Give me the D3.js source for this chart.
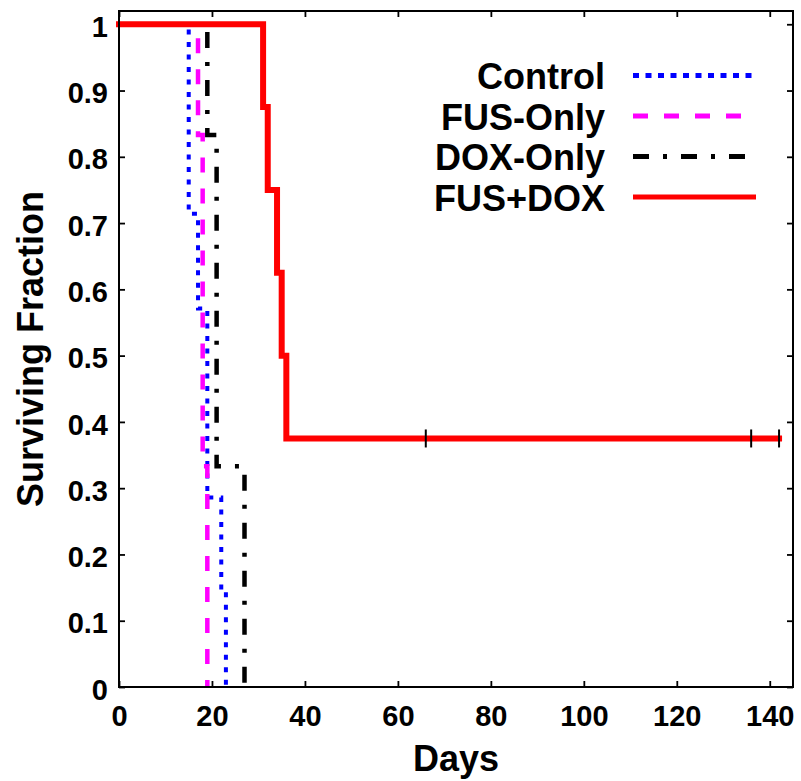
<!DOCTYPE html>
<html lang="en">
<head>
  <meta charset="UTF-8" />
  <title>Surviving Fraction</title>
  <script src="https://d3js.org/d3.v7.min.js"></script>
  <style>
    body {
      margin: 0;
      padding: 0;
      background: white;
      font-family: "Liberation Sans", Arial, sans-serif;
    }
    svg { display: block; }
    .tick text { font-weight: bold; font-size: 29px; }
  </style>
</head>
<body>
  <svg id="chart" width="801" height="781"></svg>

  <script>
    // Kaplan-Meier steps: [day, surviving fraction after that day]
    const controlSteps = [[0, 1], [15, 0.714], [17, 0.571], [19, 0.286], [22, 0.143], [23, 0]];
    const fusOnlySteps = [[0, 1], [17, 0.833], [18, 0.333], [19, 0]];
    const doxOnlySteps = [[0, 1], [19, 0.833], [21, 0.333], [27, 0]];
    const fusDoxSteps = [[0, 1], [31, 0.875], [32, 0.75], [34, 0.625], [35, 0.5], [36, 0.375], [142, 0.375]];

    // censored observations on FUS+DOX
    const fusDoxCensored = [66, 136, 142];
    const fusDoxCensoredLevel = 0.375;

    const seriesNames = ["Control", "FUS-Only", "DOX-Only", "FUS+DOX"];
    const seriesData = [controlSteps, fusOnlySteps, doxOnlySteps, fusDoxSteps];

    const xTicks = [0, 20, 40, 60, 80, 100, 120, 140];
    const yTicks = [0, 0.1, 0.2, 0.3, 0.4, 0.5, 0.6, 0.7, 0.8, 0.9, 1];
    const yTickLabels = ["0", "0.1", "0.2", "0.3", "0.4", "0.5", "0.6", "0.7", "0.8", "0.9", "1"];

    const xLabel = "Days";
    const yLabel = "Surviving Fraction";

    // look of each series
    const styles = [
      { color: "#0000ff", width: 4, dash: "5,7.5" },
      { color: "#ff00ff", width: 4.5, dash: "15,16" },
      { color: "#000000", width: 4.5, dash: "16,14,4,14" },
      { color: "#ff0000", width: 6, dash: null }
    ];

    const svg = d3.select("#chart");
    const W = 801, H = 781;
    const margin = { top: 11, right: 8, bottom: 94, left: 119 };
    const width = W - margin.left - margin.right;
    const height = H - margin.top - margin.bottom;

    const g = svg.append("g").attr("transform", `translate(${margin.left},${margin.top})`);

    const x = d3.scaleLinear().domain([0, 145]).range([0, width]);
    const y = d3.scaleLinear().domain([0, 1.02]).range([height, 0]);

    // axes with inward ticks
    g.append("g")
      .attr("transform", `translate(0,${height})`)
      .call(d3.axisBottom(x).tickValues(xTicks).tickSizeInner(-6).tickSizeOuter(0).tickPadding(18).tickFormat(d3.format("d")));

    const leftAxis = g.append("g")
      .call(d3.axisLeft(y).tickValues(yTicks).tickSizeInner(-6).tickSizeOuter(0).tickPadding(11)
        .tickFormat((d, i) => yTickLabels[i]));
    leftAxis.selectAll("text").attr("dy", "0.42em");

    g.append("g")
      .call(d3.axisTop(x).tickValues(xTicks).tickSizeInner(-6).tickSizeOuter(0).tickFormat(""));

    g.append("g")
      .attr("transform", `translate(${width},0)`)
      .call(d3.axisRight(y).tickValues(yTicks).tickSizeInner(-6).tickSizeOuter(0).tickFormat(""));

    g.selectAll(".domain").remove();
    g.selectAll(".tick line").attr("stroke", "black").attr("stroke-width", 1.8);
    g.selectAll(".tick text").attr("fill", "black");

    // step curves
    const line = d3.line()
      .x(d => x(d[0]))
      .y(d => y(d[1]))
      .curve(d3.curveStepAfter);

    seriesData.forEach((steps, i) => {
      const s = styles[i];
      g.append("path")
        .datum(steps)
        .attr("fill", "none")
        .attr("stroke", s.color)
        .attr("stroke-width", s.width)
        .attr("stroke-dasharray", s.dash)
        .attr("stroke-linecap", s.dash ? "butt" : "square")
        .attr("d", line);
    });

    // censor marks
    g.selectAll(".censor")
      .data(fusDoxCensored)
      .enter()
      .append("line")
      .attr("x1", d => x(d)).attr("x2", d => x(d))
      .attr("y1", y(fusDoxCensoredLevel) - 9)
      .attr("y2", y(fusDoxCensoredLevel) + 9)
      .attr("stroke", "black")
      .attr("stroke-width", 2);

    // frame
    g.append("rect")
      .attr("width", width)
      .attr("height", height)
      .attr("fill", "none")
      .attr("stroke", "black")
      .attr("stroke-width", 2);

    // axis titles
    svg.append("text")
      .attr("x", margin.left + width / 2)
      .attr("y", 771)
      .attr("text-anchor", "middle")
      .style("font-size", "36px")
      .style("font-weight", "bold")
      .text(xLabel);

    svg.append("text")
      .attr("transform", `translate(43,${margin.top + height / 2}) rotate(-90)`)
      .attr("text-anchor", "middle")
      .style("font-size", "36px")
      .style("font-weight", "bold")
      .text(yLabel);

    // legend
    const legend = svg.append("g").attr("transform", "translate(0,75.5)");
    seriesNames.forEach((name, i) => {
      const s = styles[i];
      const row = legend.append("g").attr("transform", `translate(0,${i * 40.5})`);
      row.append("text")
        .attr("x", 605)
        .attr("y", 13.5)
        .attr("text-anchor", "end")
        .style("font-size", "36px")
        .style("font-weight", "bold")
        .text(name);
      row.append("line")
        .attr("x1", 633).attr("x2", 756)
        .attr("y1", 0).attr("y2", 0)
        .attr("stroke", s.color)
        .attr("stroke-width", 5)
        .attr("stroke-dasharray", i === 0 ? "6,6.5" : s.dash);
    });
  </script>
</body>
</html>
